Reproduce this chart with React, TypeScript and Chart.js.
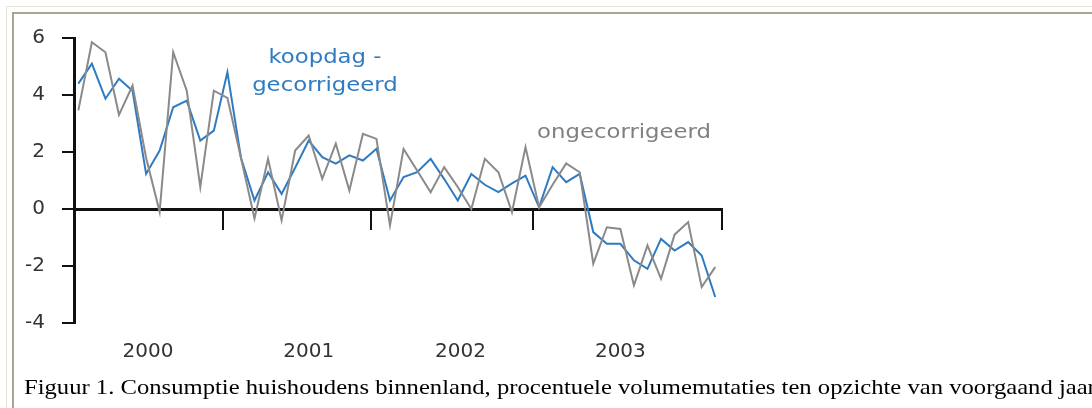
import React, { useEffect, useRef } from "react";
import { Chart, registerables } from "chart.js";

Chart.register(...registerables);

// ---- data ----
const ongecorrigeerd = [
  3.46, 5.85, 5.5, 3.3, 4.33, 1.8, -0.1, 5.5, 4.15, 0.77, 4.15, 3.9,
  1.8, -0.33, 1.76, -0.4, 2.05, 2.58, 1.06, 2.29, 0.65, 2.64, 2.46, -0.58,
  2.11, 1.35, 0.59, 1.47, 0.77, 0.0, 1.76, 1.29, -0.11, 2.17, 0.06, 0.85,
  1.6, 1.29, -1.92, -0.64, -0.7, -2.68, -1.28, -2.45, -0.9, -0.46, -2.74, -2.04,
];
const koopdagGecorrigeerd = [
  4.4, 5.1, 3.87, 4.57, 4.15, 1.23, 2.05, 3.57, 3.8, 2.4, 2.75, 4.8,
  1.8, 0.3, 1.29, 0.53, 1.45, 2.4, 1.82, 1.59, 1.88, 1.7, 2.11, 0.3,
  1.12, 1.29, 1.76, 1.05, 0.3, 1.23, 0.85, 0.59, 0.9, 1.17, 0.06, 1.47,
  0.94, 1.23, -0.81, -1.22, -1.22, -1.8, -2.1, -1.05, -1.46, -1.16, -1.63, -3.09,
];
const yearLabels = ["2000", "2001", "2002", "2003"];
const yearLabelAt = [5.14, 17.0, 28.2, 40.0];
const xTickAt = [10.68, 21.6, 33.56, 47.5];
const X_MIN = -0.32;
const X_MAX = 47.5;
const Y_MIN = -4;
const Y_MAX = 6;
const Y_STEP = 2;

const BLUE = "#2f7bc2";
const GRAY = "#8a8a8a";

type Note = { lines: string[]; x: number; y: number; align: "center" | "left"; color: string };
const notes: Note[] = [
  { lines: ["koopdag -", "gecorrigeerd"], x: 18.2, y: 5.14, align: "center", color: BLUE },
  { lines: ["ongecorrigeerd"], x: 33.85, y: 2.48, align: "left", color: "#808080" },
];

const STRETCH = 1.14;

const notesPlugin = {
  id: "notes",
  afterDatasetsDraw(chart: any) {
    const ctx = chart.ctx as CanvasRenderingContext2D;
    const xs = chart.scales.x;
    const ys = chart.scales.y;
    ctx.save();
    ctx.font = '20px "DejaVu Sans"';
    ctx.textBaseline = "alphabetic";
    for (const n of notes) {
      const px = xs.getPixelForValue(n.x);
      const py = ys.getPixelForValue(n.y);
      ctx.fillStyle = n.color;
      n.lines.forEach((t, i) => {
        const w = ctx.measureText(t).width * STRETCH;
        const left = n.align === "center" ? px - w / 2 : px;
        ctx.save();
        ctx.translate(left, py + i * 28);
        ctx.scale(STRETCH, 1);
        ctx.fillText(t, 0, 0);
        ctx.restore();
      });
    }
    ctx.restore();
  },
};

export default function App() {
  const ref = useRef<HTMLCanvasElement | null>(null);

  useEffect(() => {
    if (!ref.current) return;
    Chart.defaults.font.family = '"DejaVu Sans"';
    const chart = new Chart(ref.current, {
      type: "line",
      data: {
        datasets: [
          {
            label: "ongecorrigeerd",
            data: ongecorrigeerd.map((v, i) => ({ x: i, y: v })),
            borderColor: GRAY,
            borderWidth: 2,
            pointRadius: 0,
            tension: 0,
            clip: false as any,
          },
          {
            label: "koopdag - gecorrigeerd",
            data: koopdagGecorrigeerd.map((v, i) => ({ x: i, y: v })),
            borderColor: BLUE,
            borderWidth: 2,
            pointRadius: 0,
            tension: 0,
            clip: false as any,
          },
        ],
      },
      options: {
        responsive: false,
        animation: false,
        devicePixelRatio: 1,
        layout: { padding: { left: 0, top: 38, right: 370, bottom: 40 } },
        plugins: { legend: { display: false }, tooltip: { enabled: false } },
        scales: {
          x: {
            type: "linear",
            min: X_MIN,
            max: X_MAX,
            position: { y: 0 } as any,
            afterBuildTicks: (s: any) => {
              s.ticks = xTickAt.map((v) => ({ value: v }));
            },
            ticks: { display: false },
            grid: { drawOnChartArea: false, drawTicks: true, tickLength: 19, color: "#111", lineWidth: 2 },
            border: { display: true, color: "#111", width: 3 },
          },
          x2: {
            type: "linear",
            min: X_MIN,
            max: X_MAX,
            position: "bottom",
            afterBuildTicks: (s: any) => {
              s.ticks = yearLabelAt.map((v) => ({ value: v }));
            },
            afterFit: (s: any) => {
              s.height = 45;
            },
            ticks: {
              autoSkip: false,
              maxRotation: 0,
              padding: 17,
              color: "#333",
              font: { size: 20, family: '"DejaVu Sans"' },
              callback: (v: any) => {
                const k = yearLabelAt.indexOf(Number(v));
                return k >= 0 ? yearLabels[k] : "";
              },
            },
            grid: { display: false, drawTicks: false },
            border: { display: false },
          },
          y: {
            type: "linear",
            min: Y_MIN,
            max: Y_MAX,
            position: "left",
            afterFit: (s: any) => {
              s.width = 74;
            },
            ticks: {
              stepSize: Y_STEP,
              padding: 17,
              color: "#333",
              font: { size: 20, family: '"DejaVu Sans"' },
            },
            grid: { drawOnChartArea: false, drawTicks: true, tickLength: 12, color: "#111", lineWidth: 2 },
            border: { display: true, color: "#111", width: 3 },
          },
        },
      },
      plugins: [notesPlugin],
    });
    return () => chart.destroy();
  }, []);

  return (
    <div
      style={{
        position: "absolute",
        left: 0,
        top: 0,
        width: 1092,
        height: 408,
        overflow: "hidden",
        background: "#fff",
      }}
    >
      <div
        style={{
          position: "absolute",
          left: 6,
          top: 6,
          width: 1200,
          height: 600,
          borderTop: "1px solid #e6e2d6",
          borderLeft: "1px solid #e6e2d6",
        }}
      />
      <div
        style={{
          position: "absolute",
          left: 12,
          top: 12,
          width: 1200,
          height: 600,
          borderTop: "2px solid #aaa496",
          borderLeft: "2px solid #aaa496",
        }}
      />
      <canvas ref={ref} width={1092} height={408} style={{ position: "absolute", left: 0, top: 0, width: 1092, height: 408 }} />
      <div
        style={{
          position: "absolute",
          left: 24,
          top: 376,
          whiteSpace: "nowrap",
          fontFamily: '"Liberation Serif", "Times New Roman", serif',
          fontSize: 22,
          lineHeight: "22px",
          color: "#000",
          transform: "scaleX(1.12)",
          transformOrigin: "left top",
        }}
      >
        Figuur 1. Consumptie huishoudens binnenland, procentuele volumemutaties ten opzichte van voorgaand jaar
      </div>
    </div>
  );
}
